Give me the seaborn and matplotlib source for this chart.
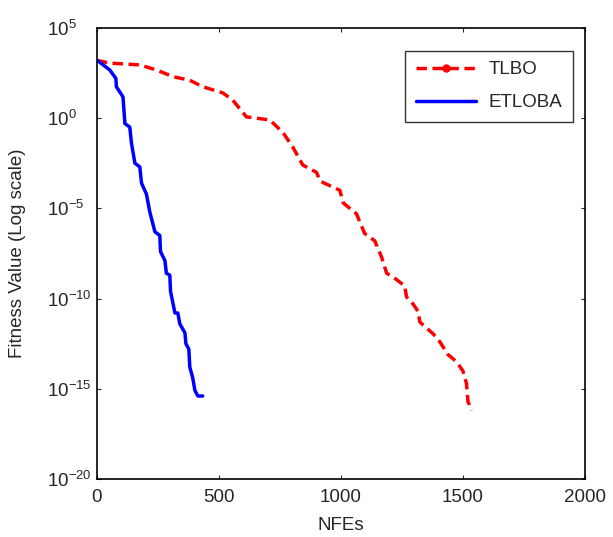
import numpy as np
import pandas as pd
import seaborn as sns
import matplotlib.pyplot as plt
from matplotlib.lines import Line2D
from matplotlib.ticker import FixedLocator, NullLocator

# convergence data (x = NFEs, y = log10 of fitness)
tlbo_nfe = [0, 53, 176, 244, 312, 381, 434, 516, 557, 613, 709, 740, 768, 803, 844,
            900, 916, 996, 1010, 1064, 1098, 1139, 1167, 1188, 1214, 1262, 1269, 1296,
            1316, 1324, 1378, 1406, 1439, 1474, 1500, 1515, 1521, 1536]
tlbo_log = [3.2, 3.05, 2.95, 2.67, 2.3, 2.1, 1.74, 1.4, 1.0, 0.07, -0.1, -0.5, -0.9, -1.6,
            -2.6, -3.0, -3.5, -4.0, -4.7, -5.3, -6.4, -6.8, -7.7, -8.6, -8.8, -9.3, -9.9,
            -10.3, -10.7, -11.3, -11.95, -12.4, -13.1, -13.5, -14.0, -14.7, -15.7, -16.2]

etloba_nfe = [0, 53, 78, 80, 107, 115, 135, 142, 156, 176, 183, 203, 217, 238, 258, 261,
              279, 285, 299, 302, 320, 332, 340, 361, 365, 377, 381, 393, 402, 414, 434]
etloba_log = [3.22, 2.67, 2.2, 1.74, 1.18, -0.3, -0.5, -1.4, -2.5, -2.7, -3.6, -4.2, -5.2,
              -6.3, -6.5, -7.4, -7.9, -8.6, -8.7, -9.6, -10.8, -10.8, -11.4, -11.9, -12.5,
              -12.8, -13.8, -14.4, -15.1, -15.4, -15.4]

ytick_exp = [5, 0, -5, -10, -15, -20]

tlbo = pd.DataFrame({'NFEs': tlbo_nfe, 'fit': 10.0 ** np.array(tlbo_log)})
etloba = pd.DataFrame({'NFEs': etloba_nfe, 'fit': 10.0 ** np.array(etloba_log)})

sns.set_style('ticks')
plt.rcParams['font.family'] = ['Liberation Sans', 'DejaVu Sans']
plt.rcParams['mathtext.default'] = 'regular'

fig = plt.figure(figsize=(6.13, 5.37), dpi=100)
ax = fig.add_axes([0.158, 0.108, 0.796, 0.84])

sns.lineplot(data=tlbo, x='NFEs', y='fit', ax=ax, color='#ff0000', lw=2.5,
             linestyle=(0, (3, 1.6)), estimator=None, sort=False)
sns.lineplot(data=etloba, x='NFEs', y='fit', ax=ax, color='#0000ff', lw=2.5,
             estimator=None, sort=False)

ax.set_yscale('log')
ax.set_xlim(0, 2000)
ax.set_ylim(1e-20, 1e5)
ax.set_xticks([0, 500, 1000, 1500, 2000])
ax.yaxis.set_major_locator(FixedLocator([10.0 ** e for e in ytick_exp]))
ax.yaxis.set_minor_locator(NullLocator())
ax.set_yticklabels(['$10^{%d}$' % e for e in ytick_exp])
ax.tick_params(direction='in', top=True, right=True, labelsize=13.5, length=3, width=0.8)
# MATLAB style: the "10" of every y label starts at the same x
ax.tick_params(axis='y', pad=36)
for lab in ax.get_yticklabels():
    lab.set_horizontalalignment('left')
ax.tick_params(axis='x', pad=7)

for s in ax.spines.values():
    s.set_linewidth(1.2)
    s.set_color('black')

ax.set_xlabel('NFEs', fontsize=13.5, labelpad=8)
ax.set_ylabel('Fitness Value (Log scale)', fontsize=13.5)
ax.yaxis.set_label_coords(-0.145, 0.5)

handles = [Line2D([], [], color='#ff0000', lw=2.5, linestyle=(0, (3, 1.6)), marker='o', markersize=5),
           Line2D([], [], color='#0000ff', lw=2.5)]
leg = ax.legend(handles, ['TLBO', 'ETLOBA'], loc='upper right', bbox_to_anchor=(0.995, 0.97),
                fontsize=13.5, frameon=True, fancybox=False, edgecolor='black',
                handlelength=3.2, borderpad=0.55, labelspacing=0.85, handletextpad=0.7)
leg.get_frame().set_linewidth(1.0)

fig.savefig('out.png', dpi=100)
